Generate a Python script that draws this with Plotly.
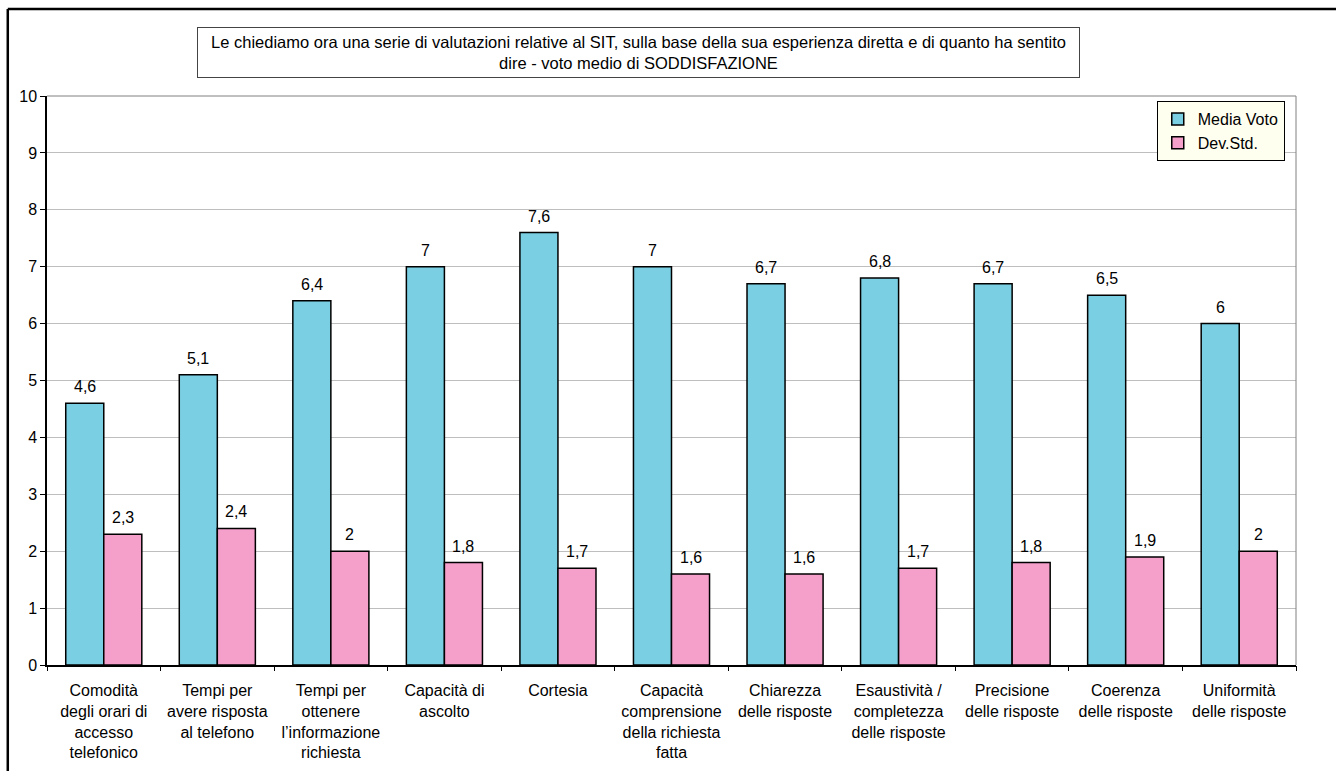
import plotly.graph_objects as go

# Survey items (x axis categories)
categories = [
    "Comodità<br>degli orari di<br>accesso<br>telefonico",
    "Tempi per<br>avere risposta<br>al telefono",
    "Tempi per<br>ottenere<br>l’informazione<br>richiesta",
    "Capacità di<br>ascolto",
    "Cortesia",
    "Capacità<br>comprensione<br>della richiesta<br>fatta",
    "Chiarezza<br>delle risposte",
    "Esaustività /<br>completezza<br>delle risposte",
    "Precisione<br>delle risposte",
    "Coerenza<br>delle risposte",
    "Uniformità<br>delle risposte",
]
media_voto = [4.6, 5.1, 6.4, 7.0, 7.6, 7.0, 6.7, 6.8, 6.7, 6.5, 6.0]
dev_std = [2.3, 2.4, 2.0, 1.8, 1.7, 1.6, 1.6, 1.7, 1.8, 1.9, 2.0]
y_ticks = list(range(0, 11))

title_text = ("Le chiediamo ora una serie di valutazioni relative al SIT, sulla base della sua "
              "esperienza diretta e di quanto ha sentito<br>dire - voto medio di SODDISFAZIONE")

FONT = "Liberation Sans, Arial, sans-serif"
CYAN = "#7BCFE2"
PINK = "#F59FCB"
BAR_W = 0.335

idx = list(range(len(categories)))


def fmt(v):
    return f"{v:g}".replace(".", ",")


fig = go.Figure()
fig.add_trace(go.Bar(
    x=idx, y=media_voto, name="Media Voto", width=BAR_W, offset=-BAR_W,
    marker=dict(color=CYAN, line=dict(color="black", width=1.5)),
))
fig.add_trace(go.Bar(
    x=idx, y=dev_std, name="Dev.Std.", width=BAR_W, offset=0,
    marker=dict(color=PINK, line=dict(color="black", width=1.5)),
))

annotations = []
for i, (m, d) in enumerate(zip(media_voto, dev_std)):
    annotations.append(dict(x=i - BAR_W / 2, y=m, text=fmt(m), showarrow=False,
                            xref="x", yref="y", yanchor="bottom", yshift=6,
                            font=dict(family=FONT, size=16, color="black")))
    annotations.append(dict(x=i + BAR_W / 2, y=d, text=fmt(d), showarrow=False,
                            xref="x", yref="y", yanchor="bottom", yshift=6,
                            font=dict(family=FONT, size=16, color="black")))

# Title box
annotations.append(dict(
    x=0.4735, y=1.0765, xref="paper", yref="paper", text=title_text, showarrow=False,
    xanchor="center", yanchor="middle", align="center", width=877, height=45,
    bordercolor="#444444", borderwidth=1, borderpad=2, bgcolor="white",
    font=dict(family=FONT, size=16.5, color="black"),
))

shapes = [
    # top and right edges of the plot area
    dict(type="line", xref="paper", yref="paper", x0=0, x1=1, y0=1, y1=1,
         line=dict(color="#808080", width=1)),
    dict(type="line", xref="paper", yref="paper", x0=1, x1=1, y0=0, y1=1,
         line=dict(color="#808080", width=1)),
    # outer chart frame (left and top edges)
    dict(type="line", xref="paper", yref="paper", x0=-0.0314, x1=1.1, y0=1.1530, y1=1.1530,
         line=dict(color="black", width=2.5)),
    dict(type="line", xref="paper", yref="paper", x0=-0.0314, x1=-0.0314, y0=1.1530, y1=-0.3,
         line=dict(color="black", width=2.5)),
]

fig.update_layout(
    width=1336, height=771,
    margin=dict(l=47, r=40, t=96, b=106),
    paper_bgcolor="white", plot_bgcolor="white",
    font=dict(family=FONT, size=16, color="black"),
    barmode="overlay",
    showlegend=True,
    legend=dict(
        x=0.991, y=0.991, xanchor="right", yanchor="top",
        bgcolor="#FFFFF0", bordercolor="black", borderwidth=1,
        font=dict(family=FONT, size=16, color="black"),
        itemwidth=30, tracegroupgap=0,
    ),
    xaxis=dict(
        range=[-0.5, len(categories) - 0.5],
        tickmode="array", tickvals=idx, ticktext=categories,
        ticks="outside", ticklen=10, tickcolor="rgba(0,0,0,0)",
        showline=True, linecolor="black", linewidth=1.5,
        showgrid=False, zeroline=False, automargin=False,
        tickfont=dict(family=FONT, size=16, color="black"),
    ),
    xaxis2=dict(
        overlaying="x", matches="x", side="bottom",
        range=[-0.5, len(categories) - 0.5],
        tickmode="array", tickvals=[i - 0.5 for i in range(len(categories) + 1)],
        ticks="outside", ticklen=5, tickcolor="black", tickwidth=1,
        showticklabels=False, showgrid=False, zeroline=False, showline=False,
        automargin=False,
    ),
    yaxis=dict(
        range=[0, 10], tickmode="array", tickvals=y_ticks,
        ticks="outside", ticklen=5, tickcolor="black",
        showline=True, linecolor="black", linewidth=1.5,
        showgrid=True, gridcolor="#BEBEBE", gridwidth=1, zeroline=False,
        automargin=False,
        tickfont=dict(family=FONT, size=16, color="black"),
    ),
    annotations=annotations,
    shapes=shapes,
)

# invisible trace so the boundary tick axis is drawn
fig.add_trace(go.Scatter(x=[0], y=[0], xaxis="x2", mode="markers",
                         marker=dict(opacity=0), showlegend=False, hoverinfo="skip"))

fig.write_html("out.html")
